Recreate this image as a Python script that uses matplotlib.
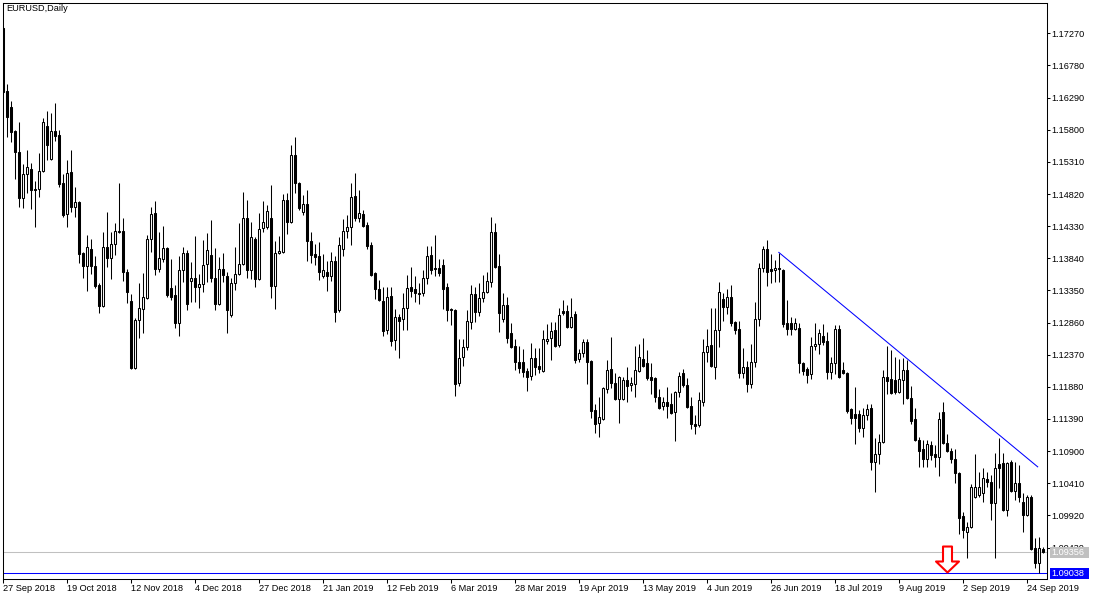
import matplotlib.pyplot as plt
import numpy as np
from matplotlib.path import Path
from matplotlib.patches import Rectangle
import matplotlib.transforms as mtransforms

plt.rcParams['font.family'] = ['Liberation Sans', 'DejaVu Sans']

# EURUSD daily bars, 27 Sep 2018 .. 30 Sep 2019 (one entry per trading day)
opens = [
    1.1735, 1.1639, 1.1615, 1.1578, 1.1546, 1.1476, 1.1513, 1.1520, 1.1490, 1.1490,
    1.1517, 1.1586, 1.1536, 1.1578, 1.1572, 1.1499, 1.1452, 1.1516, 1.1462, 1.1470,
    1.1392, 1.1372, 1.1398, 1.1372, 1.1343, 1.1311, 1.1401, 1.1385, 1.1406, 1.1424,
    1.1426, 1.1363, 1.1319, 1.1217, 1.1290, 1.1307, 1.1324, 1.1413, 1.1453, 1.1368,
    1.1383, 1.1400, 1.1339, 1.1328, 1.1285, 1.1366, 1.1392, 1.1349, 1.1354, 1.1340,
    1.1345, 1.1375, 1.1389, 1.1354, 1.1314, 1.1368, 1.1357, 1.1298, 1.1346, 1.1360,
    1.1375, 1.1446, 1.1366, 1.1413, 1.1352, 1.1430, 1.1432, 1.1446, 1.1342, 1.1392,
    1.1394, 1.1473, 1.1439, 1.1542, 1.1499, 1.1455, 1.1467, 1.1410, 1.1391, 1.1388,
    1.1357, 1.1363, 1.1357, 1.1380, 1.1305, 1.1398, 1.1426, 1.1432, 1.1479, 1.1446,
    1.1452, 1.1435, 1.1404, 1.1362, 1.1337, 1.1319, 1.1275, 1.1327, 1.1260, 1.1295,
    1.1292, 1.1308, 1.1340, 1.1337, 1.1331, 1.1331, 1.1354, 1.1389, 1.1369, 1.1369,
    1.1374, 1.1340, 1.1307, 1.1305, 1.1194, 1.1234, 1.1249, 1.1287, 1.1330, 1.1302,
    1.1324, 1.1333, 1.1348, 1.1424, 1.1372, 1.1292, 1.1313, 1.1270, 1.1250, 1.1226,
    1.1226, 1.1212, 1.1205, 1.1232, 1.1220, 1.1212, 1.1258, 1.1263, 1.1275, 1.1252,
    1.1304, 1.1304, 1.1279, 1.1299, 1.1231, 1.1240, 1.1256, 1.1227, 1.1153, 1.1133,
    1.1139, 1.1185, 1.1215, 1.1194, 1.1170, 1.1170, 1.1198, 1.1191, 1.1192, 1.1212,
    1.1231, 1.1224, 1.1203, 1.1202, 1.1173, 1.1159, 1.1165, 1.1162, 1.1150, 1.1180,
    1.1209, 1.1191, 1.1159, 1.1131, 1.1130, 1.1165, 1.1241, 1.1252, 1.1218, 1.1275,
    1.1322, 1.1310, 1.1325, 1.1287, 1.1276, 1.1209, 1.1218, 1.1192, 1.1226, 1.1292,
    1.1369, 1.1398, 1.1368, 1.1366, 1.1369, 1.1366, 1.1285, 1.1285, 1.1276, 1.1278,
    1.1224, 1.1215, 1.1208, 1.1250, 1.1253, 1.1266, 1.1258, 1.1211, 1.1224, 1.1276,
    1.1214, 1.1209, 1.1154, 1.1147, 1.1147, 1.1125, 1.1145, 1.1156, 1.1073, 1.1086,
    1.1104, 1.1203, 1.1200, 1.1198, 1.1180, 1.1198, 1.1214, 1.1171, 1.1139, 1.1107,
    1.1093, 1.1078, 1.1099, 1.1086, 1.1081, 1.1150, 1.1102, 1.1090, 1.1078, 1.1057,
    1.0991, 1.0967, 1.0974, 1.1020, 1.1023, 1.1026, 1.1048, 1.1043, 1.1011, 1.1070,
    1.1072, 1.1000, 1.1073, 1.1029, 1.1041, 1.1012, 1.0993, 1.1020, 1.0942, 1.0919,
    1.0941]

highs = [
    1.1738, 1.1650, 1.1624, 1.1580, 1.1592, 1.1528, 1.1549, 1.1529, 1.1502, 1.1545,
    1.1598, 1.1609, 1.1606, 1.1621, 1.1580, 1.1513, 1.1534, 1.1549, 1.1493, 1.1471,
    1.1394, 1.1420, 1.1413, 1.1388, 1.1346, 1.1424, 1.1455, 1.1424, 1.1438, 1.1499,
    1.1446, 1.1368, 1.1330, 1.1293, 1.1346, 1.1362, 1.1420, 1.1462, 1.1471, 1.1424,
    1.1433, 1.1401, 1.1383, 1.1343, 1.1388, 1.1401, 1.1397, 1.1378, 1.1418, 1.1360,
    1.1412, 1.1423, 1.1442, 1.1400, 1.1386, 1.1392, 1.1363, 1.1354, 1.1401, 1.1438,
    1.1485, 1.1473, 1.1439, 1.1417, 1.1453, 1.1471, 1.1465, 1.1496, 1.1410, 1.1418,
    1.1482, 1.1484, 1.1557, 1.1569, 1.1500, 1.1481, 1.1488, 1.1424, 1.1406, 1.1409,
    1.1391, 1.1380, 1.1394, 1.1388, 1.1417, 1.1444, 1.1450, 1.1499, 1.1514, 1.1488,
    1.1458, 1.1439, 1.1409, 1.1363, 1.1351, 1.1340, 1.1340, 1.1340, 1.1307, 1.1299,
    1.1331, 1.1359, 1.1371, 1.1357, 1.1346, 1.1366, 1.1403, 1.1403, 1.1420, 1.1383,
    1.1383, 1.1346, 1.1308, 1.1307, 1.1261, 1.1261, 1.1305, 1.1343, 1.1340, 1.1346,
    1.1359, 1.1363, 1.1447, 1.1438, 1.1391, 1.1331, 1.1325, 1.1285, 1.1261, 1.1250,
    1.1246, 1.1217, 1.1255, 1.1247, 1.1247, 1.1275, 1.1284, 1.1287, 1.1287, 1.1308,
    1.1321, 1.1313, 1.1324, 1.1304, 1.1246, 1.1261, 1.1261, 1.1229, 1.1162, 1.1173,
    1.1187, 1.1229, 1.1264, 1.1209, 1.1205, 1.1203, 1.1218, 1.1203, 1.1250, 1.1253,
    1.1263, 1.1244, 1.1224, 1.1203, 1.1185, 1.1173, 1.1188, 1.1179, 1.1182, 1.1211,
    1.1215, 1.1202, 1.1173, 1.1145, 1.1180, 1.1261, 1.1276, 1.1308, 1.1308, 1.1348,
    1.1331, 1.1337, 1.1343, 1.1289, 1.1289, 1.1247, 1.1227, 1.1253, 1.1317, 1.1377,
    1.1403, 1.1412, 1.1391, 1.1382, 1.1392, 1.1368, 1.1321, 1.1295, 1.1293, 1.1285,
    1.1226, 1.1218, 1.1264, 1.1285, 1.1276, 1.1284, 1.1272, 1.1234, 1.1282, 1.1282,
    1.1226, 1.1211, 1.1156, 1.1188, 1.1153, 1.1156, 1.1162, 1.1162, 1.1110, 1.1116,
    1.1214, 1.1250, 1.1244, 1.1234, 1.1231, 1.1232, 1.1229, 1.1189, 1.1156, 1.1112,
    1.1107, 1.1107, 1.1106, 1.1099, 1.1150, 1.1165, 1.1116, 1.1095, 1.1093, 1.1058,
    1.0997, 1.0982, 1.1040, 1.1086, 1.1058, 1.1064, 1.1058, 1.1054, 1.1087, 1.1110,
    1.1087, 1.1073, 1.1076, 1.1073, 1.1069, 1.1026, 1.1023, 1.1023, 1.0958, 1.0959,
    1.0944]

lows = [
    1.1636, 1.1569, 1.1561, 1.1505, 1.1462, 1.1461, 1.1484, 1.1459, 1.1432, 1.1478,
    1.1516, 1.1534, 1.1534, 1.1563, 1.1493, 1.1447, 1.1432, 1.1455, 1.1447, 1.1377,
    1.1354, 1.1334, 1.1360, 1.1339, 1.1301, 1.1310, 1.1371, 1.1352, 1.1389, 1.1423,
    1.1349, 1.1316, 1.1215, 1.1215, 1.1263, 1.1270, 1.1322, 1.1394, 1.1359, 1.1363,
    1.1378, 1.1325, 1.1321, 1.1278, 1.1266, 1.1348, 1.1305, 1.1317, 1.1317, 1.1308,
    1.1333, 1.1348, 1.1348, 1.1305, 1.1313, 1.1348, 1.1270, 1.1295, 1.1336, 1.1359,
    1.1374, 1.1354, 1.1352, 1.1340, 1.1351, 1.1424, 1.1429, 1.1324, 1.1307, 1.1391,
    1.1392, 1.1421, 1.1438, 1.1484, 1.1458, 1.1450, 1.1380, 1.1377, 1.1374, 1.1351,
    1.1354, 1.1334, 1.1349, 1.1287, 1.1302, 1.1388, 1.1415, 1.1404, 1.1441, 1.1439,
    1.1432, 1.1398, 1.1357, 1.1322, 1.1319, 1.1266, 1.1269, 1.1250, 1.1244, 1.1232,
    1.1275, 1.1275, 1.1325, 1.1317, 1.1314, 1.1327, 1.1345, 1.1360, 1.1357, 1.1357,
    1.1307, 1.1289, 1.1282, 1.1174, 1.1189, 1.1220, 1.1244, 1.1276, 1.1287, 1.1296,
    1.1317, 1.1331, 1.1340, 1.1369, 1.1272, 1.1287, 1.1255, 1.1247, 1.1214, 1.1209,
    1.1203, 1.1182, 1.1198, 1.1206, 1.1209, 1.1211, 1.1253, 1.1229, 1.1249, 1.1249,
    1.1298, 1.1278, 1.1278, 1.1224, 1.1226, 1.1234, 1.1192, 1.1141, 1.1118, 1.1112,
    1.1138, 1.1179, 1.1186, 1.1168, 1.1133, 1.1168, 1.1165, 1.1182, 1.1173, 1.1211,
    1.1218, 1.1198, 1.1177, 1.1165, 1.1154, 1.1153, 1.1141, 1.1147, 1.1106, 1.1173,
    1.1188, 1.1156, 1.1124, 1.1116, 1.1127, 1.1159, 1.1226, 1.1218, 1.1200, 1.1249,
    1.1289, 1.1299, 1.1281, 1.1269, 1.1202, 1.1202, 1.1180, 1.1186, 1.1218, 1.1281,
    1.1363, 1.1342, 1.1346, 1.1348, 1.1348, 1.1279, 1.1267, 1.1267, 1.1275, 1.1209,
    1.1206, 1.1194, 1.1200, 1.1244, 1.1238, 1.1252, 1.1200, 1.1200, 1.1208, 1.1202,
    1.1208, 1.1148, 1.1131, 1.1101, 1.1119, 1.1112, 1.1138, 1.1061, 1.1028, 1.1070,
    1.1102, 1.1177, 1.1177, 1.1177, 1.1179, 1.1162, 1.1170, 1.1131, 1.1106, 1.1066,
    1.1066, 1.1066, 1.1076, 1.1066, 1.1052, 1.1101, 1.1089, 1.1072, 1.1041, 1.0964,
    1.0958, 1.0927, 1.0973, 1.1019, 1.1020, 1.1012, 1.1035, 1.0985, 1.0927, 1.1034,
    1.0999, 1.0991, 1.1028, 1.1016, 1.1012, 1.0967, 1.0991, 1.0939, 1.0912, 1.0904,
    1.0935]

closes = [
    1.1638, 1.1600, 1.1577, 1.1546, 1.1476, 1.1513, 1.1523, 1.1488, 1.1488, 1.1517,
    1.1592, 1.1557, 1.1578, 1.1571, 1.1497, 1.1450, 1.1514, 1.1462, 1.1470, 1.1391,
    1.1372, 1.1401, 1.1372, 1.1342, 1.1311, 1.1401, 1.1385, 1.1406, 1.1426, 1.1426,
    1.1363, 1.1333, 1.1217, 1.1290, 1.1308, 1.1325, 1.1413, 1.1452, 1.1368, 1.1385,
    1.1400, 1.1328, 1.1325, 1.1285, 1.1366, 1.1392, 1.1314, 1.1354, 1.1340, 1.1345,
    1.1374, 1.1397, 1.1354, 1.1314, 1.1368, 1.1359, 1.1305, 1.1346, 1.1360, 1.1375,
    1.1446, 1.1366, 1.1417, 1.1352, 1.1429, 1.1439, 1.1456, 1.1342, 1.1392, 1.1395,
    1.1473, 1.1439, 1.1542, 1.1499, 1.1461, 1.1467, 1.1410, 1.1389, 1.1386, 1.1363,
    1.1366, 1.1357, 1.1380, 1.1302, 1.1404, 1.1426, 1.1432, 1.1478, 1.1446, 1.1453,
    1.1433, 1.1403, 1.1359, 1.1337, 1.1321, 1.1273, 1.1325, 1.1258, 1.1295, 1.1289,
    1.1308, 1.1339, 1.1334, 1.1331, 1.1330, 1.1354, 1.1388, 1.1366, 1.1368, 1.1362,
    1.1337, 1.1305, 1.1305, 1.1192, 1.1232, 1.1249, 1.1289, 1.1330, 1.1302, 1.1324,
    1.1333, 1.1349, 1.1424, 1.1371, 1.1301, 1.1313, 1.1263, 1.1249, 1.1226, 1.1217,
    1.1211, 1.1203, 1.1232, 1.1218, 1.1215, 1.1261, 1.1261, 1.1273, 1.1250, 1.1298,
    1.1301, 1.1279, 1.1295, 1.1229, 1.1240, 1.1256, 1.1226, 1.1151, 1.1131, 1.1142,
    1.1186, 1.1214, 1.1194, 1.1170, 1.1203, 1.1198, 1.1189, 1.1194, 1.1214, 1.1234,
    1.1220, 1.1202, 1.1198, 1.1173, 1.1156, 1.1165, 1.1159, 1.1148, 1.1180, 1.1205,
    1.1191, 1.1157, 1.1131, 1.1128, 1.1168, 1.1241, 1.1250, 1.1220, 1.1275, 1.1333,
    1.1310, 1.1325, 1.1285, 1.1275, 1.1209, 1.1218, 1.1192, 1.1226, 1.1292, 1.1369,
    1.1398, 1.1363, 1.1365, 1.1369, 1.1368, 1.1284, 1.1276, 1.1276, 1.1285, 1.1224,
    1.1212, 1.1206, 1.1250, 1.1253, 1.1270, 1.1256, 1.1211, 1.1224, 1.1276, 1.1203,
    1.1209, 1.1151, 1.1141, 1.1141, 1.1125, 1.1145, 1.1154, 1.1073, 1.1086, 1.1104,
    1.1203, 1.1197, 1.1179, 1.1180, 1.1200, 1.1214, 1.1171, 1.1136, 1.1107, 1.1090,
    1.1078, 1.1101, 1.1084, 1.1081, 1.1139, 1.1102, 1.1090, 1.1078, 1.1057, 1.0988,
    1.0970, 1.0974, 1.1035, 1.1035, 1.1035, 1.1049, 1.1043, 1.1011, 1.1064, 1.1064,
    1.1000, 1.1072, 1.1029, 1.1041, 1.1020, 1.0993, 1.1020, 1.0941, 1.0919, 1.0942,
    1.09356]

date_labels = ['27 Sep 2018', '19 Oct 2018', '12 Nov 2018', '4 Dec 2018', '27 Dec 2018',
               '21 Jan 2019', '12 Feb 2019', '6 Mar 2019', '28 Mar 2019', '19 Apr 2019',
               '13 May 2019', '4 Jun 2019', '26 Jun 2019', '18 Jul 2019', '9 Aug 2019',
               '2 Sep 2019', '24 Sep 2019']
bars_per_label = 16

price_ticks = [1.17270, 1.16780, 1.16290, 1.15800, 1.15310, 1.14820, 1.14330, 1.13840,
               1.13350, 1.12860, 1.12370, 1.11880, 1.11390, 1.10900, 1.10410, 1.09920,
               1.09430]

bid_price = 1.09356
hline_price = 1.09038
trend_bars = [194, 258.75]
trend_prices = [1.1393, 1.1066]
arrow_bar = 236
arrow_price = 1.0905

n = len(opens)
assert len(highs) == n and len(lows) == n and len(closes) == n, (len(opens), len(highs), len(lows), len(closes))

fig = plt.figure(figsize=(11, 6), dpi=100)
ax = fig.add_axes([2.7 / 1100, 21 / 600, 1044 / 1100, 576.3 / 600])
ax.set_xlim(-0.1, 261.0)
ax.set_ylim(1.0895, 1.17737)

# candles
x = np.arange(n)
o = np.array(opens)
c = np.array(closes)
bull = c >= o
ax.vlines(x, lows, highs, color='black', linewidth=0.75, zorder=2)
ax.bar(x, np.abs(c - o), bottom=np.minimum(o, c), width=0.5,
       color=np.where(bull, 'white', 'black'), edgecolor='black',
       linewidth=0.75, zorder=3)

# horizontal lines and trend line
ax.axhline(bid_price, color='#c0c0c0', linewidth=0.75, zorder=1)
ax.axhline(hline_price, color='#0000ff', linewidth=0.75, zorder=1)
ax.plot(trend_bars, trend_prices, color='#0000ff', linewidth=0.75, zorder=4)

# red sell arrow (tip at the point)
arrow_path = Path([(-4.5, 26), (4.5, 26), (4.5, 11), (11.5, 11), (0, 0),
                   (-11.5, 11), (-4.5, 11), (-4.5, 26)], closed=True)
ax.plot([arrow_bar], [arrow_price], marker=arrow_path, markersize=37.4,
        markerfacecolor='white', markeredgecolor='#ff0000', markeredgewidth=1.5,
        linestyle='none', zorder=5)

# axes styling
for sp in ax.spines.values():
    sp.set_linewidth(0.75)
    sp.set_color('black')

ax.yaxis.tick_right()
ax.set_yticks(price_ticks)
ax.set_yticklabels([f'{p:.5f}' for p in price_ticks])
ax.tick_params(axis='y', direction='out', length=2.5, width=0.75, pad=1, labelsize=6.6)

xt = [i * bars_per_label for i in range(len(date_labels))]
ax.set_xticks(xt)
ax.set_xticklabels(date_labels)
for lab in ax.get_xticklabels():
    lab.set_ha('left')
ax.tick_params(axis='x', direction='out', length=3, width=0.75, pad=0.5, labelsize=6.6)

ax.text(0.0038, 0.9969, 'EURUSD,Daily', transform=ax.transAxes, va='top', ha='left',
        fontsize=6.6)

# price tags on the right scale
trans = mtransforms.blended_transform_factory(ax.transAxes, ax.transData)
box_h = 11 * (1.17737 - 1.0895) / 576.3
for price, col in [(bid_price, '#c0c0c0'), (hline_price, '#0000ff')]:
    ax.add_patch(Rectangle((1.0032, price - box_h / 2), 39 / 1044, box_h, transform=trans,
                           facecolor=col, edgecolor='none', clip_on=False, zorder=6))
    ax.text(1.0045, price, f'{price:.5f}', transform=trans, color='white', va='center',
            ha='left', fontsize=6.6, clip_on=False, zorder=7)

fig.savefig('out.png', dpi=100)
